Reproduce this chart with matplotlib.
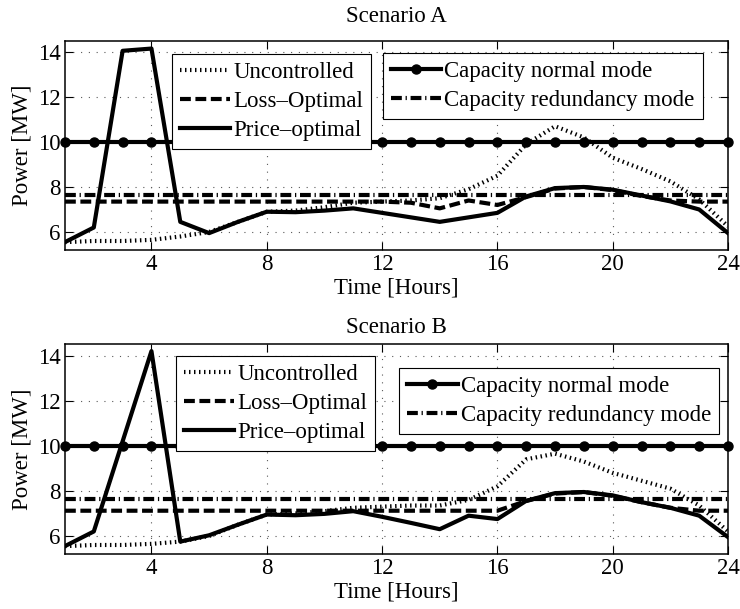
import numpy as np
import matplotlib
matplotlib.use("Agg")
import matplotlib.pyplot as plt

plt.rcParams['font.family'] = ['Liberation Serif', 'DejaVu Serif']
plt.rcParams['font.size'] = 16.5

hours = np.arange(1, 25)

# scenario A
unc_a = [5.55, 5.6, 5.6, 5.65, 5.8, 6.0, 6.45, 6.9, 6.95, 7.1, 7.3, 7.35,
         7.4, 7.5, 7.9, 8.5, 9.9, 10.7, 10.2, 9.3, 8.8, 8.25, 7.45, 6.25]
loss_a = [7.35] * 12 + [7.3, 7.05, 7.4, 7.2, 7.55, 7.93, 8.0, 7.86, 7.6, 7.4, 7.35, 7.35]
price_a = [5.55, 6.2, 14.05, 14.15, 6.45, 5.95, 6.45, 6.9, 6.88, 6.95, 7.05, 6.85,
           6.65, 6.45, 6.65, 6.85, 7.58, 7.95, 8.0, 7.88, 7.62, 7.36, 7.0, 5.95]

# scenario B
unc_b = [5.55, 5.6, 5.6, 5.65, 5.75, 6.0, 6.5, 6.95, 7.0, 7.1, 7.25, 7.3,
         7.35, 7.35, 7.6, 8.2, 9.4, 9.65, 9.3, 8.8, 8.45, 8.1, 7.35, 6.2]
loss_b = [7.12] * 16 + [7.55, 7.88, 7.95, 7.78, 7.5, 7.25, 7.12, 7.12]
price_b = [5.55, 6.2, 10.2, 14.2, 5.75, 6.03, 6.5, 6.95, 6.92, 6.98, 7.1, 6.85,
           6.58, 6.3, 6.9, 6.75, 7.56, 7.9, 7.95, 7.8, 7.5, 7.25, 6.9, 5.95]

cap_normal = 10.0
cap_redundancy = 7.65

xticks = [4, 8, 12, 16, 20, 24]
yticks = [6, 8, 10, 12, 14]

scenarios = [
    ("Scenario A", unc_a, loss_a, price_a, 13.7, (0.161, 0.936), (0.479, 0.940)),
    ("Scenario B", unc_b, loss_b, price_b, 8.0, (0.167, 0.944), (0.504, 0.886)),
]

fig = plt.figure(figsize=(7.4, 6.09), dpi=100)
axes_pos = [[0.0878, 0.5895, 0.896, 0.3437], [0.0878, 0.0903, 0.896, 0.3443]]

lw = 3.0
dot = (0, (0.35, 0.85))
dash = (0, (2.6, 1.1))
dashdot = (0, (2.6, 0.9, 0.3, 0.9))

for pos, (title, unc, loss, price, tpad, leg1, leg2) in zip(axes_pos, scenarios):
    ax = fig.add_axes(pos)
    l_unc, = ax.plot(hours, unc, color='k', lw=lw, linestyle=dot,
                     dash_capstyle='butt', label='Uncontrolled')
    l_loss, = ax.plot(hours, loss, color='k', lw=lw, linestyle=dash,
                      dash_capstyle='butt', label='Loss\u2013Optimal')
    l_price, = ax.plot(hours, price, color='k', lw=lw, linestyle='-',
                       label='Price\u2013optimal')
    l_cn, = ax.plot(hours, np.full(len(hours), cap_normal), color='k', lw=lw,
                    marker='o', markersize=6.5, clip_on=False,
                    label='Capacity normal mode')
    l_cr, = ax.plot(hours, np.full(len(hours), cap_redundancy), color='k', lw=lw,
                    linestyle=dashdot, dash_capstyle='butt',
                    label='Capacity redundancy mode')

    ax.set_xlim(1, 24)
    ax.set_ylim(5.2, 14.5)
    ax.set_xticks(xticks)
    ax.set_yticks(yticks)
    ax.grid(True, color='0.35', lw=0.8, linestyle=(0, (1, 6)))
    ax.set_axisbelow(True)
    ax.tick_params(direction='in', top=True, right=True, length=5.5, width=0.8,
                   pad=3)
    for s in ax.spines.values():
        s.set_linewidth(1.1)

    ax.set_title(title, fontsize=16.5, pad=tpad)
    ax.set_xlabel('Time [Hours]', labelpad=1.5)
    ax.set_ylabel('Power [MW]', labelpad=4)

    kw = dict(loc='upper left', borderaxespad=0, fancybox=False, framealpha=1,
              edgecolor='k', borderpad=0.35, handlelength=2.2, handletextpad=0.15,
              labelspacing=0.35, numpoints=1)
    lg1 = ax.legend(handles=[l_unc, l_loss, l_price], bbox_to_anchor=leg1, **kw)
    lg1.get_frame().set_linewidth(0.8)
    ax.add_artist(lg1)
    lg2 = ax.legend(handles=[l_cn, l_cr], bbox_to_anchor=leg2, **kw)
    lg2.get_frame().set_linewidth(0.8)

fig.savefig('out.png', dpi=100)
